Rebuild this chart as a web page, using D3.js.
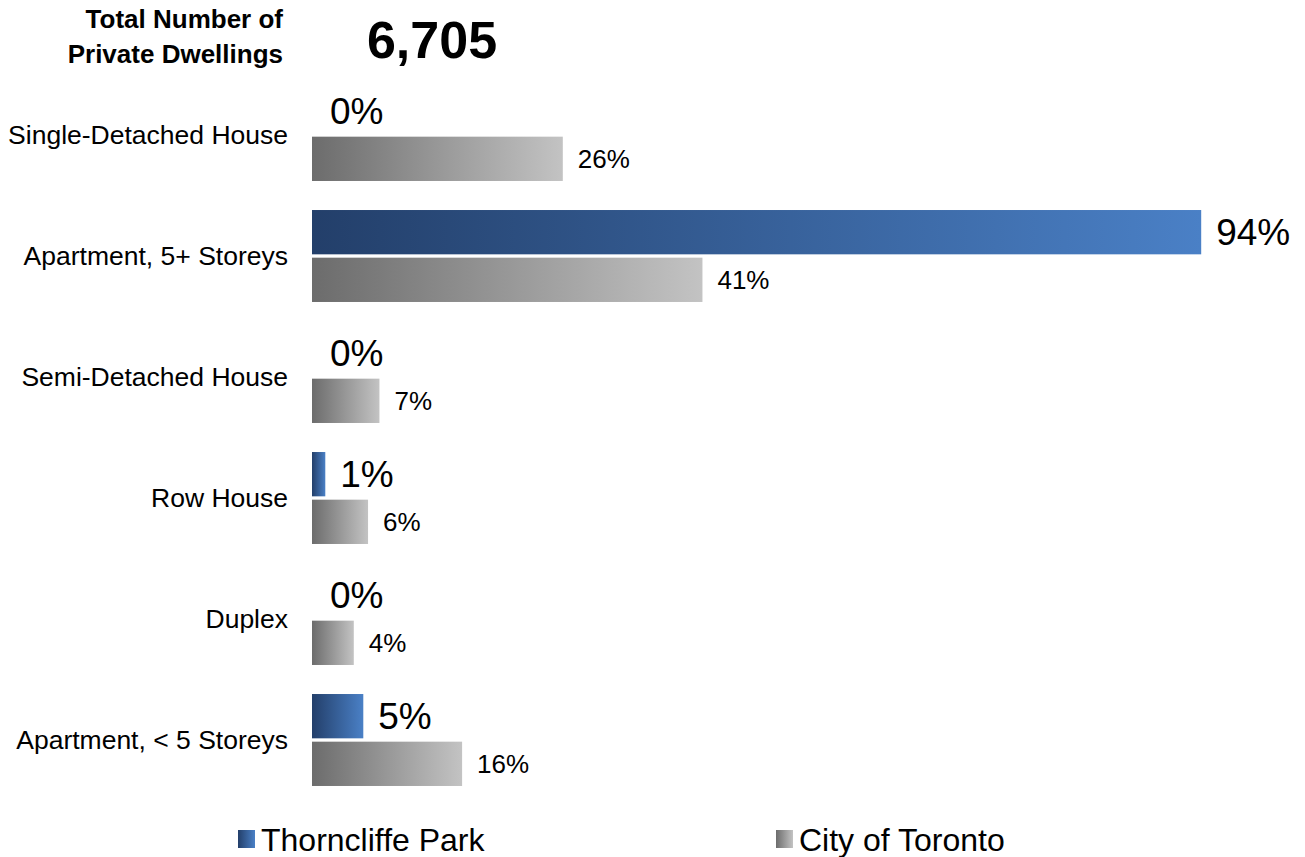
<!DOCTYPE html>
<html lang="en">
<head>
<meta charset="utf-8">
<title>Private Dwellings by Structure Type</title>
<style type="text/css">
    body { margin: 0; background: #fff; }
    text { font-family: "Liberation Sans", Arial, sans-serif; fill: #000; }
</style>
</head>
<body>
<script src="https://d3js.org/d3.v7.min.js"></script>
<script>

    var categories = ["Single-Detached House", "Apartment, 5+ Storeys", "Semi-Detached House",
                      "Row House", "Duplex", "Apartment, < 5 Storeys"];
    var seriesNames = ["Thorncliffe Park", "City of Toronto"];
    var thorncliffe = [0, 93.6, 0, 1.4, 0, 5.4];
    var toronto = [26.4, 41.1, 7.1, 5.9, 4.4, 15.8];
    var totalLabel = ["Total Number of", "Private Dwellings"];
    var totalValue = "6,705";

    var width = 1305, height = 857;

    var svg = d3.select("body").append("svg")
                .attr("width", width)
                .attr("height", height);

    var defs = svg.append("defs");
    var blueGrad = defs.append("linearGradient").attr("id", "gradBlue");
    blueGrad.append("stop").attr("offset", "0%").attr("stop-color", "#233f6a");
    blueGrad.append("stop").attr("offset", "100%").attr("stop-color", "#4a80c6");
    var grayGrad = defs.append("linearGradient").attr("id", "gradGray");
    grayGrad.append("stop").attr("offset", "0%").attr("stop-color", "#6c6c6c");
    grayGrad.append("stop").attr("offset", "100%").attr("stop-color", "#c3c3c3");
    var fills = ["url(#gradBlue)", "url(#gradGray)"];

    var xScale = d3.scaleLinear()
                .domain([0, 100])
                .range([312, 312 + 950]);

    var yScale = d3.scaleBand()
                .domain(categories)
                .range([74.5, 800.5])
                .paddingInner(0.24)
                .paddingOuter(0.12);

    var ySub = d3.scaleBand()
                .domain(seriesNames)
                .range([0, yScale.bandwidth()])
                .paddingInner(0.07);

    // heading
    var head = svg.append("g");
    head.selectAll("text")
        .data(totalLabel)
        .enter()
        .append("text")
        .attr("x", 283)
        .attr("y", function(d, i){ return 28 + i * 35; })
        .attr("text-anchor", "end")
        .style("font-weight", "bold")
        .style("font-size", "26px")
        .text(function(d){ return d; });
    head.append("text")
        .attr("x", 432)
        .attr("y", 58)
        .attr("text-anchor", "middle")
        .style("font-weight", "bold")
        .style("font-size", "52px")
        .text(totalValue);

    // category labels
    svg.append("g").selectAll("text")
        .data(categories)
        .enter()
        .append("text")
        .attr("x", 288)
        .attr("y", function(d){ return yScale(d) + yScale.bandwidth() / 2; })
        .attr("dy", "0.35em")
        .attr("text-anchor", "end")
        .style("font-size", "26.5px")
        .text(function(d){ return d; });

    var rows = categories.map(function(c, i){
        return [{cat: c, s: 0, v: thorncliffe[i]}, {cat: c, s: 1, v: toronto[i]}];
    });
    var flat = d3.merge(rows);

    var groups = svg.append("g").selectAll("g")
        .data(flat)
        .enter()
        .append("g")
        .attr("transform", function(d){
            return "translate(0," + (yScale(d.cat) + ySub(seriesNames[d.s])) + ")";
        });

    groups.filter(function(d){ return d.v > 0; })
        .append("rect")
        .attr("x", xScale(0))
        .attr("y", 0)
        .attr("width", function(d){ return xScale(d.v) - xScale(0); })
        .attr("height", ySub.bandwidth())
        .attr("fill", function(d){ return fills[d.s]; });

    groups.append("text")
        .attr("x", function(d){ return xScale(d.v) + (d.s === 0 ? (d.v > 0 ? 15 : 18) : 15); })
        .attr("y", ySub.bandwidth() / 2)
        .attr("dy", "0.35em")
        .style("font-size", function(d){ return d.s === 0 ? "37px" : "26px"; })
        .text(function(d){ return Math.round(d.v) + "%"; });

    // legend
    var legendX = [238, 776];
    var legend = svg.append("g").selectAll("g")
        .data(seriesNames)
        .enter()
        .append("g")
        .attr("transform", function(d, i){ return "translate(" + legendX[i] + ",830)"; });
    legend.append("rect")
        .attr("width", 17)
        .attr("height", 18)
        .attr("fill", function(d, i){ return fills[i]; });
    legend.append("text")
        .attr("x", 23)
        .attr("y", 9)
        .attr("dy", "0.36em")
        .style("font-size", "32px")
        .text(function(d){ return d; });

</script>
</body>
</html>
